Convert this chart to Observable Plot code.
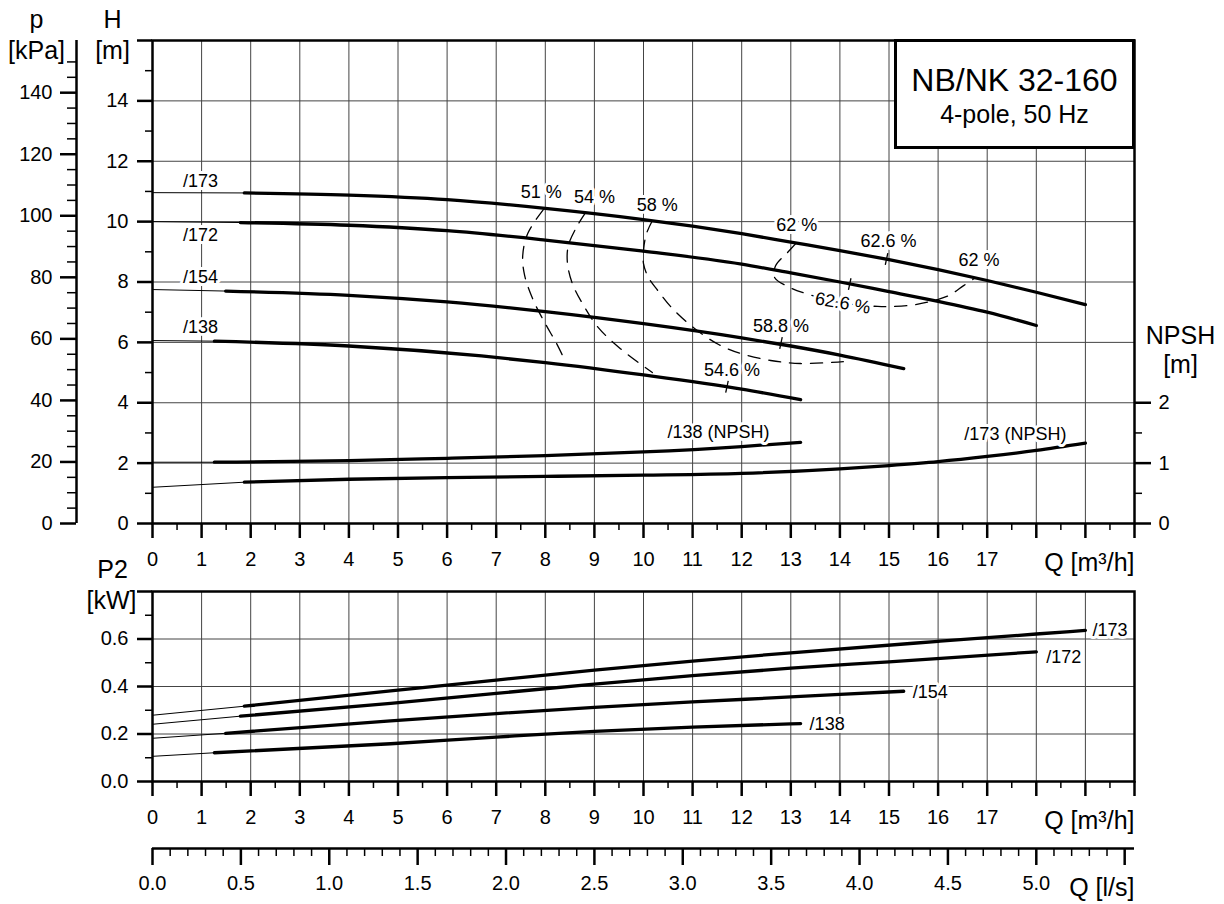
<!DOCTYPE html>
<html>
<head>
<meta charset="utf-8">
<script src="https://cdn.jsdelivr.net/npm/d3@7"></script>
<script src="https://cdn.jsdelivr.net/npm/@observablehq/plot@0.6"></script>
<style>
html, body { margin: 0; padding: 0; overflow: hidden; background: #fff; }
#chart { position: relative; width: 1224px; height: 904px; font-family: "Liberation Sans", Arial, Helvetica, sans-serif; color: #000; }
#chart svg { position: absolute; left: 0; }
#titlebox { position: absolute; left: 894px; top: 39px; width: 235px; height: 104px; border: 3px solid #000; background: #fff; text-align: center; z-index: 5; }
#titlebox .t1 { position: absolute; left: 0; right: 0; top: 22px; font-size: 32px; line-height: 32px; }
#titlebox .t2 { position: absolute; left: 0; right: 0; top: 60px; font-size: 25px; line-height: 25px; }
</style>
</head>
<body>
<div id="chart"></div>
<script>
// ---------------- data ----------------
const titleText = "NB/NK 32-160";
const subtitleText = "4-pole, 50 Hz";

// axis ticks / labels
const qMajor = d3.range(0, 21, 1);            // m³/h
const qMinor = d3.range(0.5, 20, 1);
const qLabelMax = 17;
const hMajor = [0, 2, 4, 6, 8, 10, 12, 14, 16];  // m
const hLabelMax = 14;
const hMinor = [1, 3, 5, 7, 9, 11, 13, 15];
const pMajor = [0, 20, 40, 60, 80, 100, 120, 140]; // kPa
const pMinor = [5, 10, 15, 25, 30, 35, 45, 50, 55, 65, 70, 75, 85, 90, 95, 105, 110, 115, 125, 130, 135, 145, 150];
const npshMajor = [0, 1, 2];                   // m
const npshMinor = [0.5, 1.5];
const p2Major = [0, 0.2, 0.4, 0.6, 0.8];        // kW
const p2LabelMax = 0.6;
const p2Minor = [0.1, 0.3, 0.5, 0.7];
const lsMajor = [0, 0.5, 1, 1.5, 2, 2.5, 3, 3.5, 4, 4.5, 5, 5.5]; // l/s
const lsLabelMax = 5.0;
const lsMinor = [0.1,0.2,0.3,0.4,0.6,0.7,0.8,0.9,1.1,1.2,1.3,1.4,1.6,1.7,1.8,1.9,2.1,2.2,2.3,2.4,2.6,2.7,2.8,2.9,3.1,3.2,3.3,3.4,3.6,3.7,3.8,3.9,4.1,4.2,4.3,4.4,4.6,4.7,4.8,4.9,5.1,5.2,5.3,5.4];

// unit conversions between the shared scales
const kPaPerM = 9.81;   // p = rho g H
const hPerNpsh = 2;     // right NPSH axis is drawn at half the H scale
const m3hPerLs = 3.6;

// head curves [Q m³/h, H m]; first segment (from Q = 0) is the thin extension
const H173 = [[0,10.96],[1.87,10.95],[4,10.88],[6,10.73],[8,10.44],[10,10.07],[11,9.85],[12,9.6],[13,9.32],[14,9.04],[15,8.74],[16,8.41],[17,8.05],[18,7.66],[19,7.25]];
const H172 = [[0,10.0],[1.79,9.97],[4,9.88],[6,9.7],[8,9.39],[10,9.02],[12,8.59],[13,8.3],[14,8.0],[15,7.68],[16,7.36],[17,7.0],[18,6.56]];
const H154 = [[0,7.75],[1.49,7.7],[4,7.56],[6,7.34],[8,7.02],[10,6.62],[12,6.15],[13,5.88],[14,5.58],[15.3,5.13]];
const H138 = [[0,6.06],[1.26,6.04],[4,5.88],[6.7,5.55],[8,5.33],[10,4.92],[12,4.45],[13.2,4.1]];

// NPSH curves [Q, NPSH m]
const N138 = [[0,1.015],[1.26,1.015],[4,1.04],[6,1.08],[8,1.125],[10,1.185],[12,1.275],[13.2,1.345]];
const N173 = [[0,0.60],[1.87,0.684],[4,0.733],[6,0.76],[8,0.78],[10,0.80],[12,0.83],[14,0.905],[15,0.96],[16,1.025],[17,1.11],[18,1.21],[19,1.33]];

// power curves [Q, P2 kW]
const P173 = [[0,0.279],[1.87,0.317],[4.85,0.382],[7,0.427],[9,0.469],[11,0.507],[13,0.542],[16,0.59],[18,0.621],[19,0.636]];
const P172 = [[0,0.241],[1.79,0.275],[4.85,0.329],[7,0.371],[9,0.41],[11,0.446],[13,0.477],[15,0.504],[18,0.546]];
const P154 = [[0,0.182],[1.49,0.203],[4.85,0.255],[7,0.286],[9,0.312],[11,0.335],[13,0.356],[14,0.367],[15.3,0.38]];
const P138 = [[0,0.106],[1.26,0.121],[4.85,0.159],[7,0.187],[9,0.211],[11,0.229],[13.2,0.244]];

// efficiency iso-lines [Q, H]
const E51 = [[7.96,10.40],[7.64,9.60],[7.54,8.87],[7.58,8.21],[7.76,7.38],[8.0,6.62],[8.23,5.96],[8.37,5.50]];
const E54 = [[8.82,10.30],[8.64,9.83],[8.47,9.21],[8.45,8.64],[8.55,7.95],[8.78,7.22],[9.08,6.49],[9.53,5.79],[10.18,5.0]];
const E58 = [[10.18,10.03],[10.06,9.60],[10.0,9.04],[10.0,8.61],[10.10,8.15],[10.29,7.72],[10.59,7.12],[11.04,6.46],[11.53,5.93],[11.98,5.63],[12.59,5.40],[13.20,5.30],[14.07,5.36]];
const E62 = [[13.10,9.27],[12.93,8.97],[12.69,8.54],[12.67,8.15],[12.99,7.81],[13.30,7.62],[14.01,7.32],[14.77,7.19],[15.07,7.19],[15.54,7.25],[15.99,7.42],[16.25,7.58],[16.52,7.88],[16.75,8.13]];

// best-efficiency marks on curves
const bepQ = [12.8, 11.7, 14.95, 14.2];
const bepH = [5.98, 4.53, 8.76, 7.93];
const bepText = ["58.8 %", "54.6 %", "62.6 %", "62.6 %"];

// ---------------- drawing ----------------
const FONT = '"Liberation Sans", Arial, Helvetica, sans-serif';
const GRID = "#444";
const X = d => d[0], Y = d => d[1];
const YN = d => d[1] * hPerNpsh;
const halo = {stroke: "white", strokeWidth: 6, fill: "black"};
const unit = {text: d => d, textAnchor: "middle", lineAnchor: "bottom", fontSize: 25};

function curve(pts, y = Y) {
  return [
    Plot.line(pts.slice(0, 2), {x: X, y, stroke: "black", strokeWidth: 1}),
    Plot.line(pts.slice(1), {x: X, y, stroke: "black", strokeWidth: 3.3, curve: "monotone-x", strokeLinecap: "round"})
  ];
}
function contour(pts) {
  return Plot.line(pts, {x: X, y: Y, stroke: "black", strokeWidth: 1.3, strokeDasharray: "12,9", curve: "catmull-rom"});
}
const tickSymbol = {draw(ctx, size) { const r = Math.sqrt(size / Math.PI); ctx.moveTo(0, -r); ctx.lineTo(0, r); }};
const bep = bepQ.map((q, i) => ({q, h: bepH[i], t: bepText[i]}));

const chart = document.getElementById("chart");

const topPlot = Plot.plot({
  width: 1224, height: 580,
  marginLeft: 152, marginRight: 90, marginTop: 40, marginBottom: 57,
  x: {domain: [0, 20]},
  y: {domain: [0, 16]},
  style: {fontFamily: FONT, fontSize: "20px", background: "transparent", overflow: "visible", color: "black"},
  marks: [
    Plot.gridX(d3.range(1, 20), {stroke: GRID, strokeOpacity: 1, strokeWidth: 1}),
    Plot.gridY(d3.range(2, 16, 2), {stroke: GRID, strokeOpacity: 1, strokeWidth: 1}),
    ...curve(H173), ...curve(H172), ...curve(H154), ...curve(H138),
    ...curve(N138, YN), ...curve(N173, YN),
    contour(E51), contour(E54), contour(E58), contour(E62),
    Plot.dot(bep, {x: "q", y: "h", symbol: tickSymbol, r: 6, rotate: 12, stroke: "black", strokeWidth: 1.3, fill: "none"}),
    // labels
    Plot.text([H173[0]], {x: X, y: Y, text: () => "/173", dx: 48, dy: -11, fontSize: 18, ...halo}),
    Plot.text([H172[0]], {x: X, y: Y, text: () => "/172", dx: 48, dy: 14, fontSize: 18, ...halo}),
    Plot.text([H154[0]], {x: X, y: Y, text: () => "/154", dx: 48, dy: -12, fontSize: 18, ...halo}),
    Plot.text([H138[0]], {x: X, y: Y, text: () => "/138", dx: 48, dy: -13, fontSize: 18, ...halo}),
    Plot.text([N138.at(-1)], {x: X, y: YN, text: () => "/138 (NPSH)", textAnchor: "end", dx: -31, dy: -10, fontSize: 18, ...halo}),
    Plot.text([N173.at(-1)], {x: X, y: YN, text: () => "/173 (NPSH)", textAnchor: "end", dx: -19, dy: -9, fontSize: 18, ...halo}),
    Plot.text([E51[0]], {x: X, y: Y, text: () => "51 %", dx: -2, dy: -17, fontSize: 18, ...halo}),
    Plot.text([E54[0]], {x: X, y: Y, text: () => "54 %", dx: 9, dy: -15, fontSize: 18, ...halo}),
    Plot.text([E58[0]], {x: X, y: Y, text: () => "58 %", dx: 5, dy: -15, fontSize: 18, ...halo}),
    Plot.text([E62[0]], {x: X, y: Y, text: () => "62 %", dx: 1, dy: -18, fontSize: 18, ...halo}),
    Plot.text([E62.at(-1)], {x: X, y: Y, text: () => "62 %", dx: 4, dy: -18, fontSize: 18, ...halo}),
    Plot.text([bep[0]], {x: "q", y: "h", text: "t", dx: 0, dy: -17, fontSize: 18, ...halo}),
    Plot.text([bep[1]], {x: "q", y: "h", text: "t", dx: 5, dy: -17, fontSize: 18, ...halo}),
    Plot.text([bep[2]], {x: "q", y: "h", text: "t", dx: 2, dy: -18, fontSize: 18, ...halo}),
    Plot.text([bep[3]], {x: "q", y: "h", text: "t", dx: -7, dy: 19, rotate: 10, fontSize: 18, ...halo}),
    // frame & axes
    Plot.frame({stroke: "black", strokeWidth: 2.5}),
    Plot.axisY(hMajor, {anchor: "left", tickSize: 15, tickPadding: 9, strokeWidth: 2.5, fontSize: 20, label: null, tickFormat: d => d <= hLabelMax ? String(d) : ""}),
    Plot.axisY(hMinor, {anchor: "left", tickSize: 7, strokeWidth: 1.5, label: null, tickFormat: () => ""}),
    Plot.ruleX([0], {dx: -76, stroke: "black", strokeWidth: 2.5}),
    Plot.axisY(pMajor.map(p => p / kPaPerM), {anchor: "left", dx: -76, tickSize: 16, tickPadding: 8, strokeWidth: 2.5, fontSize: 20, label: null, tickFormat: h => String(Math.round(h * kPaPerM))}),
    Plot.axisY(pMinor.map(p => p / kPaPerM), {anchor: "left", dx: -76, tickSize: 9, strokeWidth: 1.5, label: null, tickFormat: () => ""}),
    Plot.axisY(npshMajor.map(n => n * hPerNpsh), {anchor: "right", tickSize: 16, tickPadding: 8, strokeWidth: 2.5, fontSize: 20, label: null, tickFormat: h => String(h / hPerNpsh)}),
    Plot.axisY(npshMinor.map(n => n * hPerNpsh), {anchor: "right", tickSize: 7, strokeWidth: 1.5, label: null, tickFormat: () => ""}),
    Plot.axisX(qMajor, {anchor: "bottom", tickSize: 15, tickPadding: 13, strokeWidth: 2.5, fontSize: 20, label: null, tickFormat: d => d <= qLabelMax ? String(d) : ""}),
    Plot.axisX(qMinor, {anchor: "bottom", tickSize: 7, strokeWidth: 1.5, label: null, tickFormat: () => ""}),
    // unit labels
    Plot.text(["p"], {frameAnchor: "top-left", dx: -116, dy: -13, ...unit}),
    Plot.text(["[kPa]"], {frameAnchor: "top-left", dx: -116, dy: 18, ...unit}),
    Plot.text(["H"], {frameAnchor: "top-left", dx: -40, dy: -13, ...unit}),
    Plot.text(["[m]"], {frameAnchor: "top-left", dx: -40, dy: 18, ...unit}),
    Plot.text(["NPSH"], {frameAnchor: "top-right", dx: 46, dy: 303, ...unit}),
    Plot.text(["[m]"], {frameAnchor: "top-right", dx: 46, dy: 332, ...unit}),
    Plot.text(["Q [m³/h]"], {frameAnchor: "bottom-right", ...unit, textAnchor: "end", dy: 47})
  ]
});
topPlot.style.top = "0px";
chart.appendChild(topPlot);

const bottomPlot = Plot.plot({
  width: 1224, height: 354,
  marginLeft: 152, marginRight: 90, marginTop: 41, marginBottom: 123,
  x: {domain: [0, 20]},
  y: {domain: [0, 0.8]},
  style: {fontFamily: FONT, fontSize: "20px", background: "transparent", overflow: "visible", color: "black"},
  marks: [
    Plot.gridX(d3.range(1, 20), {stroke: GRID, strokeOpacity: 1, strokeWidth: 1}),
    Plot.gridY([0.2, 0.4, 0.6], {stroke: GRID, strokeOpacity: 1, strokeWidth: 1}),
    ...curve(P173), ...curve(P172), ...curve(P154), ...curve(P138),
    Plot.text([P173.at(-1)], {x: X, y: Y, text: () => "/173", textAnchor: "start", dx: 7, dy: 0, fontSize: 18, ...halo}),
    Plot.text([P172.at(-1)], {x: X, y: Y, text: () => "/172", textAnchor: "start", dx: 10, dy: 5, fontSize: 18, ...halo}),
    Plot.text([P154.at(-1)], {x: X, y: Y, text: () => "/154", textAnchor: "start", dx: 9, dy: 1, fontSize: 18, ...halo}),
    Plot.text([P138.at(-1)], {x: X, y: Y, text: () => "/138", textAnchor: "start", dx: 9, dy: 1, fontSize: 18, ...halo}),
    Plot.frame({stroke: "black", strokeWidth: 2.5}),
    Plot.axisY(p2Major, {anchor: "left", tickSize: 15, tickPadding: 9, strokeWidth: 2.5, fontSize: 20, label: null, tickFormat: d => d <= p2LabelMax + 1e-9 ? d.toFixed(1) : ""}),
    Plot.axisY(p2Minor, {anchor: "left", tickSize: 7, strokeWidth: 1.5, label: null, tickFormat: () => ""}),
    Plot.axisX(qMajor, {anchor: "bottom", tickSize: 15, tickPadding: 13, strokeWidth: 2.5, fontSize: 20, label: null, tickFormat: d => d <= qLabelMax ? String(d) : ""}),
    Plot.axisX(qMinor, {anchor: "bottom", tickSize: 7, strokeWidth: 1.5, label: null, tickFormat: () => ""}),
    // secondary flow axis in l/s
    Plot.ruleY([0], {dy: 67, stroke: "black", strokeWidth: 2.5}),
    Plot.axisX(lsMajor.map(v => v * m3hPerLs), {anchor: "bottom", dy: 67, tickSize: 17, tickPadding: 10, strokeWidth: 2.5, fontSize: 20, label: null, tickFormat: q => (q / m3hPerLs) <= lsLabelMax + 1e-9 ? (q / m3hPerLs).toFixed(1) : ""}),
    Plot.axisX(lsMinor.map(v => v * m3hPerLs), {anchor: "bottom", dy: 67, tickSize: 8, strokeWidth: 1.5, label: null, tickFormat: () => ""}),
    // unit labels
    Plot.text(["P2"], {frameAnchor: "top-left", dx: -40, dy: -14, ...unit}),
    Plot.text(["[kW]"], {frameAnchor: "top-left", dx: -41, dy: 17, ...unit}),
    Plot.text(["Q [m³/h]"], {frameAnchor: "bottom-right", ...unit, textAnchor: "end", dy: 47}),
    Plot.text(["Q [l/s]"], {frameAnchor: "bottom-right", ...unit, textAnchor: "end", dy: 114})
  ]
});
bottomPlot.style.top = "550px";
chart.appendChild(bottomPlot);

const box = document.createElement("div");
box.id = "titlebox";
const t1 = document.createElement("div"); t1.className = "t1"; t1.textContent = titleText;
const t2 = document.createElement("div"); t2.className = "t2"; t2.textContent = subtitleText;
box.appendChild(t1); box.appendChild(t2);
chart.appendChild(box);
</script>
</body>
</html>
